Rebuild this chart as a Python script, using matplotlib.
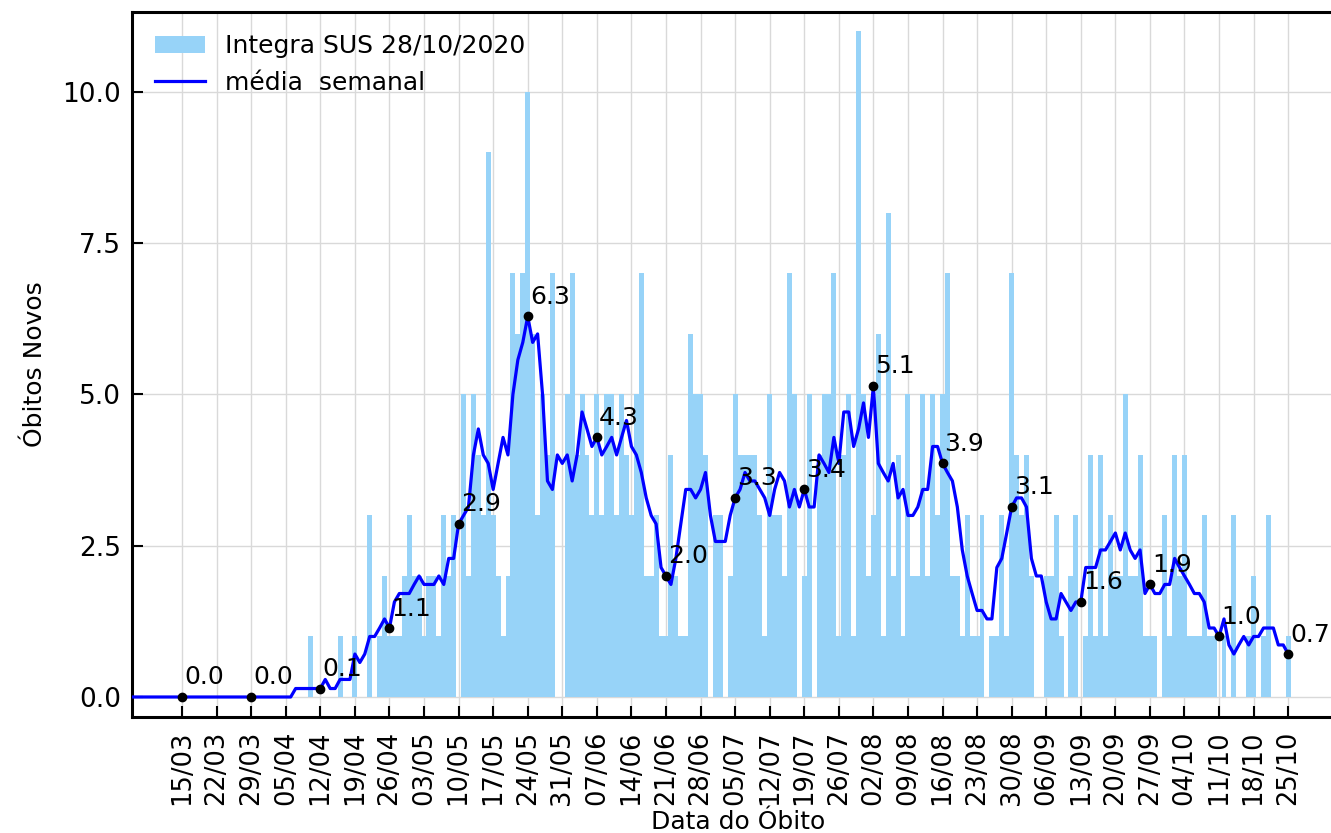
import numpy as np
import pandas as pd
import matplotlib
matplotlib.use('Agg')
import matplotlib.pyplot as plt
import matplotlib.dates as mdates

# obitos diarios, de 10/04/2020 a 28/10/2020
obitos = [1, 0, 0, 0, 0, 0, 1, 0, 0, 1, 0, 0, 3, 0, 1, 2, 1, 1, 1, 2,
          3, 2, 2, 1, 2, 2, 1, 3, 2, 3, 0, 5, 2, 5, 4, 3, 9, 3, 2, 1,
          2, 7, 6, 7, 10, 6, 3, 5, 4, 7, 0, 0, 5, 7, 4, 5, 4, 3, 5, 3,
          5, 5, 3, 5, 4, 3, 5, 7, 2, 2, 3, 1, 1, 4, 2, 1, 1, 6, 5, 5,
          4, 0, 3, 3, 0, 2, 5, 4, 4, 4, 4, 3, 1, 5, 3, 3, 2, 7, 5, 0,
          2, 5, 0, 4, 5, 5, 7, 1, 4, 5, 1, 11, 5, 2, 3, 6, 1, 8, 2, 4,
          1, 5, 2, 2, 5, 2, 5, 3, 5, 7, 2, 2, 1, 3, 1, 1, 3, 0, 1, 1,
          3, 1, 7, 4, 3, 4, 2, 0, 0, 2, 2, 3, 1, 0, 2, 3, 0, 1, 4, 1,
          4, 1, 3, 2, 2, 5, 2, 2, 4, 1, 1, 1, 0, 3, 1, 4, 2, 4, 1, 1,
          1, 3, 1, 1, 0, 1, 0, 3, 0, 0, 1, 2, 0, 1, 3, 0, 0, 0, 1, 0,
          0, 0]
datas = pd.date_range('2020-04-10', periods=len(obitos), freq='D')

# media semanal (centrada), de 05/03/2020 a 25/10/2020
media = [0.0]*33 + [
    0.14, 0.14, 0.14, 0.14, 0.14, 0.14, 0.29, 0.14, 0.14, 0.29,
    0.29, 0.29, 0.71, 0.57, 0.71, 1.0, 1.0, 1.14, 1.29, 1.14,
    1.57, 1.71, 1.71, 1.71, 1.86, 2.0, 1.86, 1.86, 1.86, 2.0,
    1.86, 2.29, 2.29, 2.86, 3.0, 3.14, 4.0, 4.43, 4.0, 3.86,
    3.43, 3.86, 4.29, 4.0, 5.0, 5.57, 5.86, 6.29, 5.86, 6.0,
    5.0, 3.57, 3.43, 4.0, 3.86, 4.0, 3.57, 4.0, 4.71, 4.43,
    4.14, 4.29, 4.0, 4.14, 4.29, 4.0, 4.29, 4.57, 4.14, 4.0,
    3.71, 3.29, 3.0, 2.86, 2.14, 2.0, 1.86, 2.29, 2.86, 3.43,
    3.43, 3.29, 3.43, 3.71, 3.0, 2.57, 2.57, 2.57, 3.0, 3.29,
    3.43, 3.71, 3.57, 3.57, 3.43, 3.29, 3.0, 3.43, 3.71, 3.57,
    3.14, 3.43, 3.14, 3.43, 3.14, 3.14, 4.0, 3.86, 3.71, 4.29,
    3.86, 4.71, 4.71, 4.14, 4.43, 4.86, 4.29, 5.14, 3.86, 3.71,
    3.57, 3.86, 3.29, 3.43, 3.0, 3.0, 3.14, 3.43, 3.43, 4.14,
    4.14, 3.86, 3.71, 3.57, 3.14, 2.43, 2.0, 1.71, 1.43, 1.43,
    1.29, 1.29, 2.14, 2.29, 2.71, 3.14, 3.29, 3.29, 3.14, 2.29,
    2.0, 2.0, 1.57, 1.29, 1.29, 1.71, 1.57, 1.43, 1.57, 1.57,
    2.14, 2.14, 2.14, 2.43, 2.43, 2.57, 2.71, 2.43, 2.71, 2.43,
    2.29, 2.43, 1.71, 1.86, 1.71, 1.71, 1.86, 1.86, 2.29, 2.14,
    2.0, 1.86, 1.71, 1.71, 1.57, 1.14, 1.14, 1.0, 1.29, 0.86,
    0.71, 0.86, 1.0, 0.86, 1.0, 1.0, 1.14, 1.14, 1.14, 0.86,
    0.86, 0.71]
datas_media = pd.date_range('2020-03-05', periods=len(media), freq='D')

ticks = pd.date_range('2020-03-15', '2020-10-25', freq='7D')
destaques = pd.date_range('2020-03-15', '2020-10-25', freq='14D')

plt.rcParams['font.size'] = 18
fig = plt.figure(figsize=(13.31, 8.33), dpi=100)
ax = fig.add_axes([0.0992, 0.1393, 0.9113, 0.8463])

barras = ax.bar(datas, obitos, width=1.0, color='#97d3f8', label='Integra SUS 28/10/2020', zorder=2)
linha, = ax.plot(datas_media, media, color='blue', linewidth=2.3, label='média  semanal', zorder=3)

serie = pd.Series(media, index=datas_media)
for d in destaques:
    v = serie[d]
    ax.plot(d, v, marker='o', color='black', markersize=6, zorder=4)
    ax.annotate(f'{v:.1f}', (d, v), xytext=(1.5, 9), textcoords='offset points',
                fontsize=18, va='baseline', ha='left', zorder=5)

ax.set_xlim(pd.Timestamp('2020-03-15') - pd.Timedelta(days=10.13),
            pd.Timestamp('2020-03-15') + pd.Timedelta(days=235.5))
ax.set_ylim(-0.33, 11.32)
ax.set_yticks([0.0, 2.5, 5.0, 7.5, 10.0])
ax.set_xticks(ticks)
ax.xaxis.set_major_formatter(mdates.DateFormatter('%d/%m'))
plt.setp(ax.get_xticklabels(), rotation=90)

ax.tick_params(direction='in', length=8, width=1.5)
ax.tick_params(axis='y', labelsize=19, pad=8)
ax.tick_params(axis='x', labelsize=18.5, pad=10)
ax.grid(True, color='#d9d9d9', linewidth=1, zorder=0)
ax.set_axisbelow(True)
for s in ax.spines.values():
    s.set_linewidth(2.2)

ax.set_ylabel('Óbitos Novos', fontsize=18, labelpad=11)
ax.set_xlabel('Data do Óbito', fontsize=18, labelpad=3)
ax.legend([barras, linha], ['Integra SUS 28/10/2020', 'média  semanal'],
          loc='upper left', frameon=False, fontsize=18)

fig.savefig('out.png', dpi=100)
